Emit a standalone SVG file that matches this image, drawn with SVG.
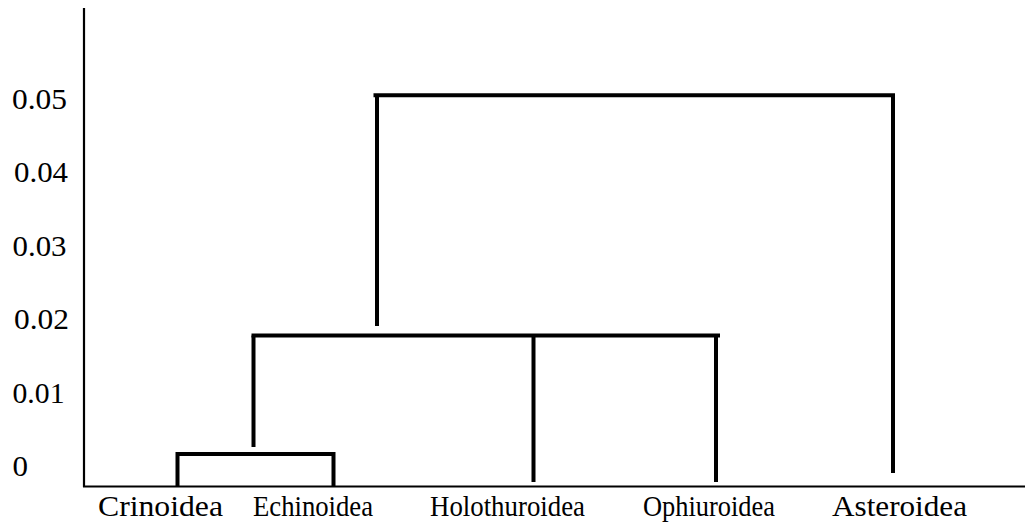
<svg xmlns="http://www.w3.org/2000/svg" width="1025" height="526" viewBox="0 0 1025 526">
<style>
.t{font-family:"Liberation Serif",serif;font-size:30px;fill:#000}
.ax{stroke:#000;stroke-width:2.2;fill:none}
.br{stroke:#000;stroke-width:4;fill:none}
</style>
<rect width="1025" height="526" fill="#fff"/>
<g id="axes">
<line class="ax" x1="84" y1="8" x2="84" y2="487"/>
<line class="ax" x1="83" y1="486.5" x2="1025" y2="486.5"/>
<text class="t" x="12" y="108.5" textLength="55" lengthAdjust="spacingAndGlyphs">0.05</text>
<text class="t" x="14" y="182" textLength="54" lengthAdjust="spacingAndGlyphs">0.04</text>
<text class="t" x="12.5" y="255.5" textLength="54" lengthAdjust="spacingAndGlyphs">0.03</text>
<text class="t" x="14" y="329" textLength="55" lengthAdjust="spacingAndGlyphs">0.02</text>
<text class="t" x="12.5" y="402.5" textLength="52" lengthAdjust="spacingAndGlyphs">0.01</text>
<text class="t" x="12.5" y="476" textLength="15.5" lengthAdjust="spacingAndGlyphs">0</text>
</g>
<g id="leaf-crinoidea"><text class="t" x="98" y="516" textLength="125" lengthAdjust="spacingAndGlyphs">Crinoidea</text></g>
<g id="leaf-echinoidea"><text class="t" x="253" y="516" textLength="120" lengthAdjust="spacingAndGlyphs">Echinoidea</text></g>
<g id="leaf-holothuroidea"><text class="t" x="430" y="516" textLength="155" lengthAdjust="spacingAndGlyphs">Holothuroidea</text></g>
<g id="leaf-ophiuroidea"><text class="t" x="643" y="516" textLength="132" lengthAdjust="spacingAndGlyphs">Ophiuroidea</text></g>
<g id="leaf-asteroidea"><text class="t" x="832" y="516" textLength="135" lengthAdjust="spacingAndGlyphs">Asteroidea</text></g>
<g id="connectors">
<polyline class="br" points="177.5,486 177.5,454 333.5,454 333.5,486"/>
<line class="br" x1="253.5" y1="447" x2="253.5" y2="335.5"/>
<line class="br" x1="251.5" y1="335.5" x2="720" y2="335.5"/>
<line class="br" x1="533.5" y1="335.5" x2="533.5" y2="482"/>
<line class="br" x1="716" y1="335.5" x2="716" y2="482"/>
<line class="br" x1="377" y1="326" x2="377" y2="97"/>
<line class="br" x1="373.5" y1="95.3" x2="895" y2="95.3"/>
<line class="br" x1="893" y1="95.3" x2="893" y2="473"/>
</g>
</svg>
